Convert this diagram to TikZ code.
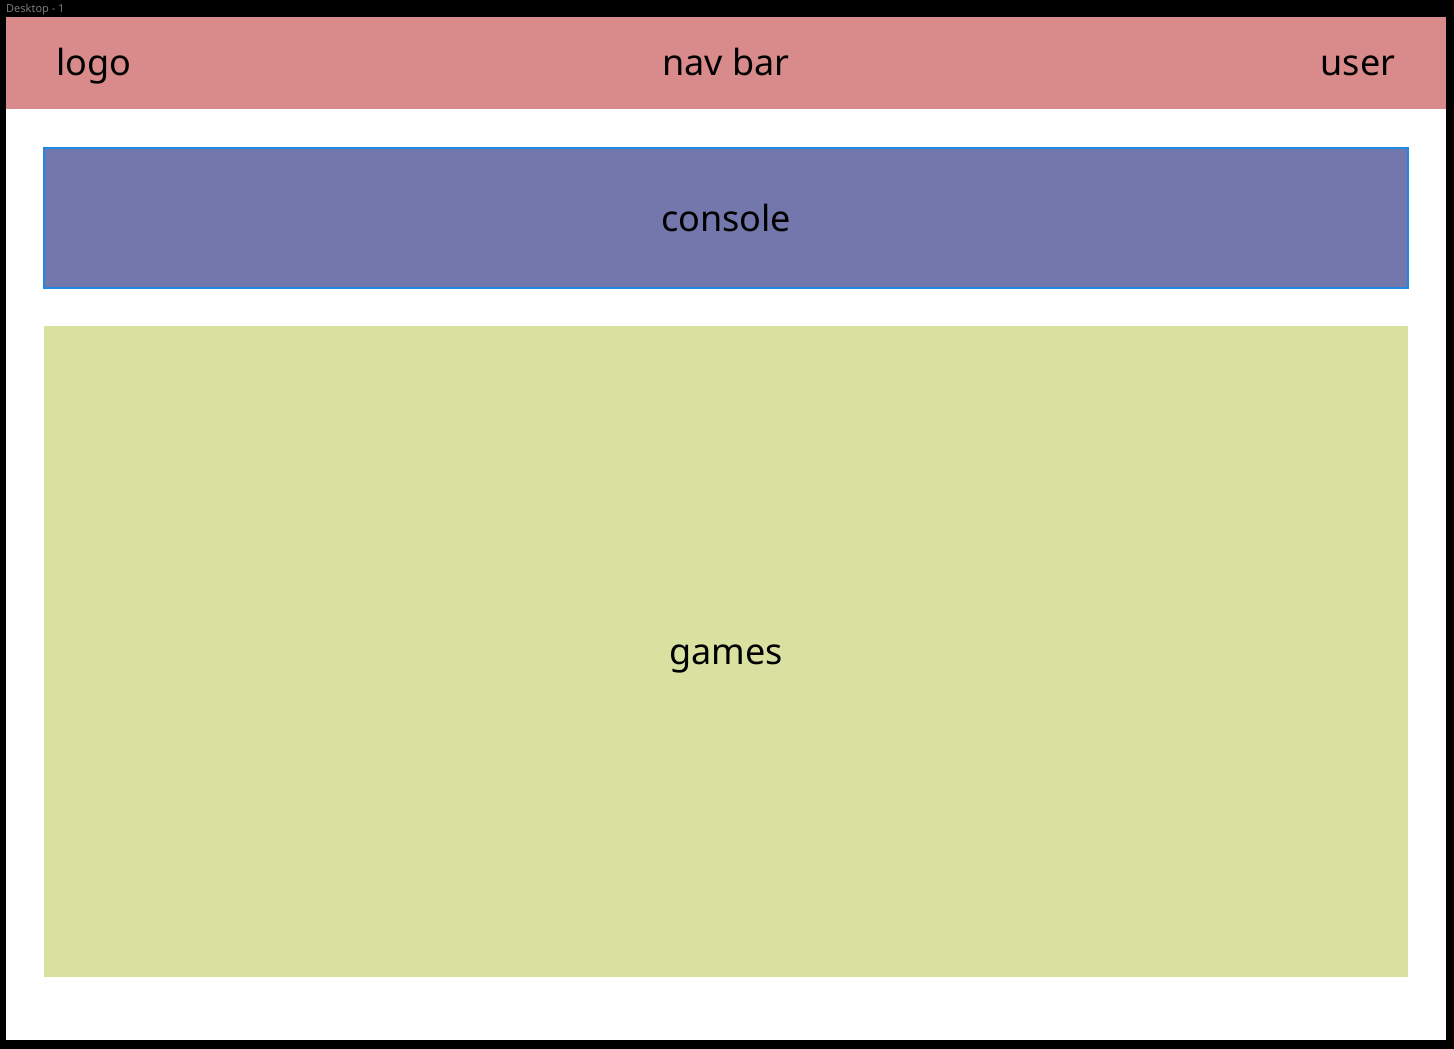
\documentclass[tikz,border=0pt]{standalone}
\usepackage{fontspec}
\setmainfont{Noto Sans}
\usepackage{tikz}
\usetikzlibrary{positioning}

\definecolor{navred}{HTML}{D98B8B}
\definecolor{consolefill}{HTML}{7477AB}
\definecolor{consoleline}{HTML}{1E88E5}
\definecolor{gamesfill}{HTML}{D9E1A1}
\definecolor{framegray}{HTML}{7A7A7A}

\begin{document}
\begin{tikzpicture}[x=1pt,y=-1pt]
            \tikzstyle{block}=[rectangle, inner sep=0pt, outer sep=0pt, text height=30pt, text depth=4pt, font=\fontsize{36}{42}\selectfont]
            \tikzstyle{label}=[inner sep=0pt, text height=30pt, text depth=4pt, font=\fontsize{36}{42}\selectfont]
            \fill[black] (0,0) rectangle (1454,1049);
            \useasboundingbox (0,0) rectangle (1454,1049);
            \node[block, fill=white, minimum width=1440pt, minimum height=1023pt] (desk) at (726,528.5){};
            \node[anchor=west, inner sep=0pt, text=framegray, font=\fontsize{11}{13}\selectfont] (title) at (6,9.5){Desktop - 1};
            \node[block, fill=navred, minimum width=1440pt, minimum height=92pt] (nav) at (726,63){nav bar};
            \node[label] (logo) at (94,63){logo};
            \node[label] (user) at (1358,63){user};
            \node[block, fill=consolefill, draw=consoleline, line width=2pt, minimum width=1364pt, minimum height=140pt] (console) at (726,218){console};
            \node[block, fill=gamesfill, minimum width=1364pt, minimum height=651pt] (games) at (726,651.5){games};
        \end{tikzpicture}
\end{document}
